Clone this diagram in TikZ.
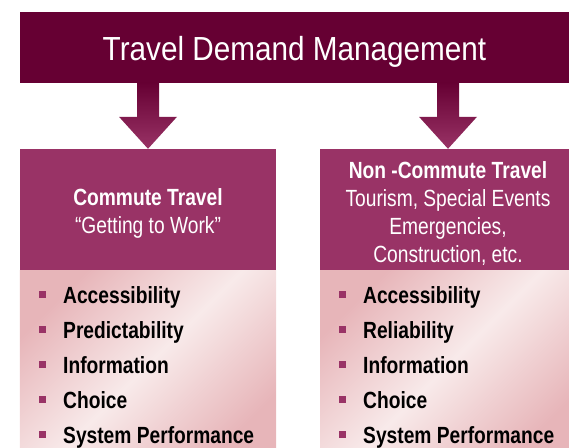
\documentclass[tikz,border=0pt]{standalone}
\usepackage{fontspec}
\setmainfont[FakeStretch=0.82]{Liberation Sans}
\newfontfamily\titlefont[FakeStretch=0.89]{Liberation Sans}
\usepackage{xcolor}
\usetikzlibrary{positioning}
\definecolor{wine}{HTML}{660033}
\definecolor{plum}{HTML}{993366}
\definecolor{rosedark}{HTML}{E7B5B9}
\definecolor{roselight}{HTML}{F8EAEA}
\newcommand{\hstrut}{\rule{0pt}{25bp}}

\begin{document}
\begin{tikzpicture}[x=1bp,y=-1bp,
    titlebox/.style={fill=wine,text=white,minimum width=549bp,minimum height=71bp,inner sep=0pt,
      text height=27bp,text depth=0bp,font=\titlefont\fontsize{33.5}{40}\selectfont},
    headbox/.style={fill=plum,text=white,minimum width=256bp,minimum height=121bp,inner sep=0pt,
      align=center,font=\fontsize{23.5}{28}\selectfont},
    bodybox/.style={top color=rosedark,bottom color=rosedark,middle color=roselight,shading angle=45,
      minimum width=256bp,minimum height=190bp,inner sep=0pt},
    arrowshade/.style={top color=wine,bottom color=plum,draw=none},
    item/.style={anchor=base west,inner sep=0pt,font=\fontsize{23.5}{28}\selectfont\bfseries},
    sqbullet/.style={fill=plum,minimum size=7bp,inner sep=0pt}]
  \useasboundingbox (0,0) rectangle (569,448);
  % title bar
  \node[titlebox] (tdm) at (294.5,47.5) {Travel Demand Management};
  % the two branches
  \node[headbox] (cbox) at (148,209.5) {\hstrut\textbf{Commute Travel}\\“Getting to Work”};
  \node[headbox] (nbox) at (448,209.5) {\hstrut\textbf{Non -Commute Travel}\\Tourism, Special Events\\Emergencies,\\Construction, etc.};
  \node[bodybox,below=0pt of cbox] (cbody) {};
  \node[bodybox,below=0pt of nbox] (nbody) {};
  % block arrows from the title to each branch
  \foreach \b in {cbox,nbox}
    \shade[arrowshade] (\b.north) -- ++(29,-32) -- ++(-18,0) -- ++(0,-34) -- ++(-22,0)
      -- ++(0,34) -- ++(-18,0) -- cycle;
  % bullet lists
  \foreach \t [count=\i from 0] in {Accessibility,Predictability,Information,Choice,System Performance}{
    \node[sqbullet] (cdot\i) at (42.5,{294.5+35*\i}) {};
    \node[item] (citem\i) at (63,{303+35*\i}) {\t};
  }
  \foreach \t [count=\i from 0] in {Accessibility,Reliability,Information,Choice,System Performance}{
    \node[sqbullet] (ndot\i) at (342.5,{294.5+35*\i}) {};
    \node[item] (nitem\i) at (363,{303+35*\i}) {\t};
  }
\end{tikzpicture}
\end{document}
